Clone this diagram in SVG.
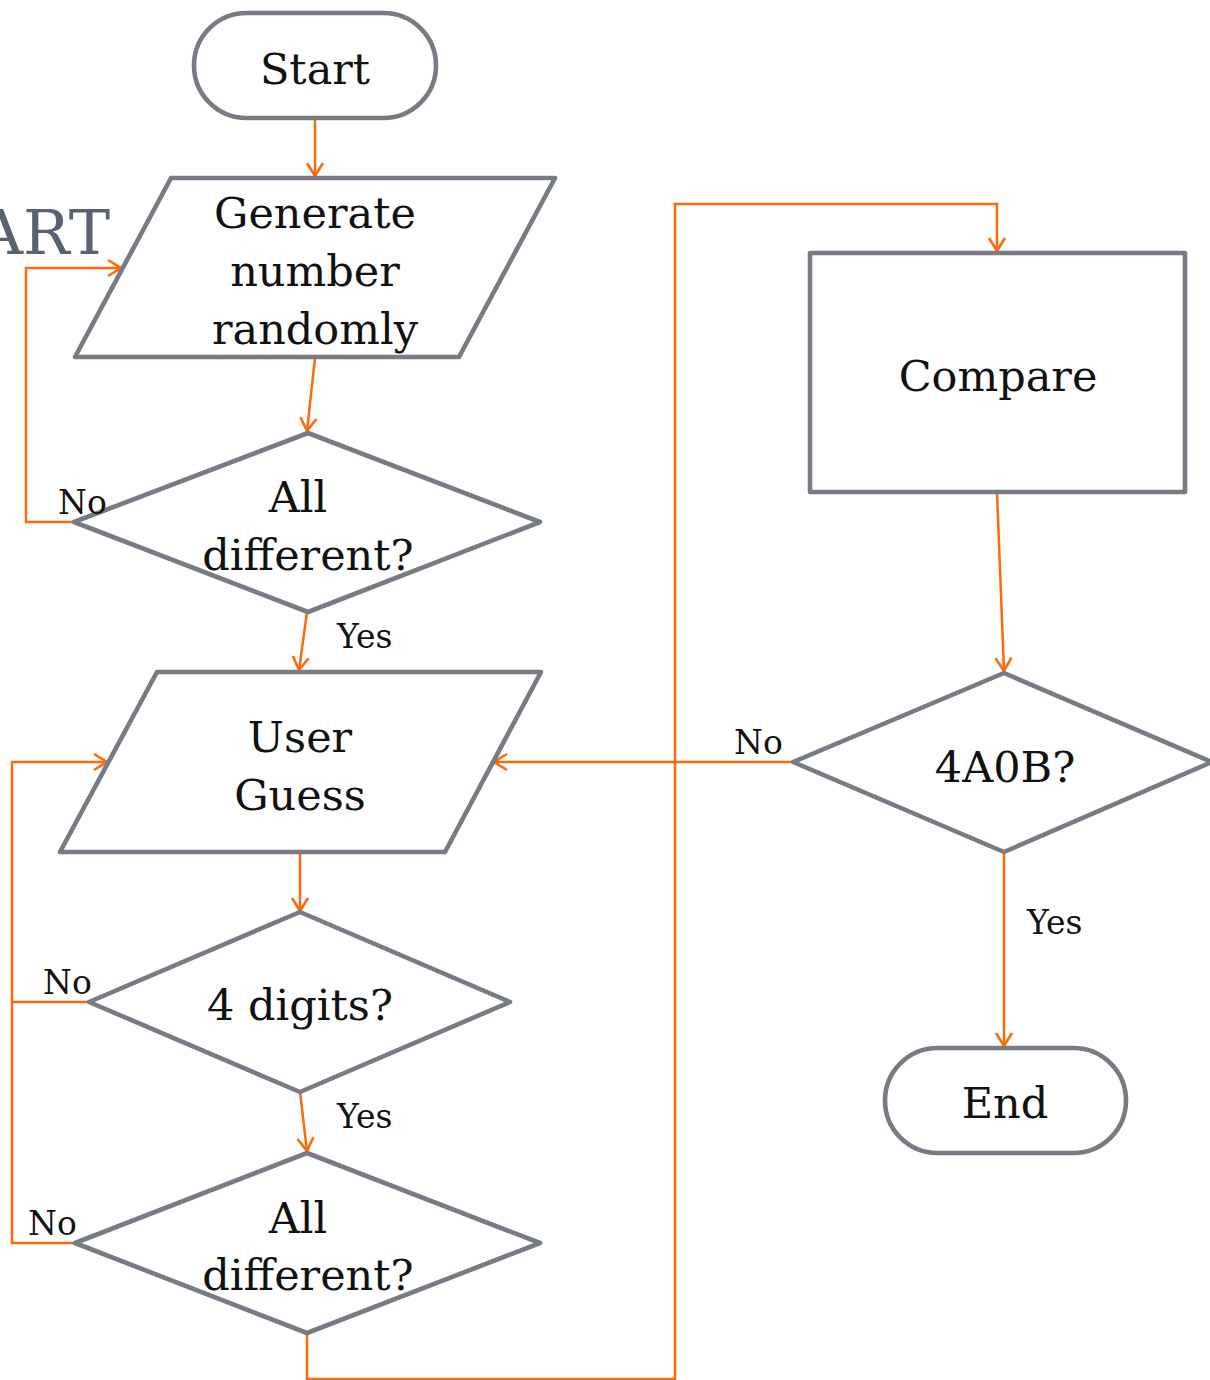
<svg xmlns="http://www.w3.org/2000/svg" width="1210" height="1380" viewBox="0 0 1210 1380">
  <style>
    .node { fill: #ffffff; stroke: #777b83; stroke-width: 4.6; stroke-linejoin: round; }
    .lbl { font-family: "DejaVu Serif", "Liberation Serif", serif; font-size: 43px; fill: #111111; text-anchor: middle; }
    .sm { font-family: "DejaVu Serif", "Liberation Serif", serif; font-size: 33px; fill: #111111; }
    .conn { fill: none; stroke: #ff6a0a; stroke-width: 2.5; }
    .title { font-family: "DejaVu Serif", "Liberation Serif", serif; font-size: 62px; fill: #5a6170; text-anchor: end; }
  </style>
  <defs>
    <marker id="arr" viewBox="0 0 16 20" refX="15" refY="10" markerWidth="16" markerHeight="20" markerUnits="userSpaceOnUse" orient="auto">
      <path d="M2,2 L15,10 L2,18" fill="none" stroke="#ff6a0a" stroke-width="2.6"/>
    </marker>
  </defs>
  <rect width="1210" height="1380" fill="#ffffff"/>

  <text class="title" x="110" y="254">ART</text>

  <g id="connectors">
    <path class="conn" d="M315,118 L315,176" marker-end="url(#arr)"/>
    <path class="conn" d="M315,358 L307,431" marker-end="url(#arr)"/>
    <path class="conn" d="M74,522 L26,522 L26,268 L121,268" marker-end="url(#arr)"/>
    <path class="conn" d="M307,612 L299,670" marker-end="url(#arr)"/>
    <path class="conn" d="M300,852 L300,911" marker-end="url(#arr)"/>
    <path class="conn" d="M89,1002 L12,1002"/>
    <path class="conn" d="M75,1243 L12,1243 L12,762 L107,762" marker-end="url(#arr)"/>
    <path class="conn" d="M300,1092 L307,1151" marker-end="url(#arr)"/>
    <path class="conn" d="M307,1333 L307,1379 L675,1379 L675,204 L997,204 L997,251" marker-end="url(#arr)"/>
    <path class="conn" d="M997,492 L1004,671" marker-end="url(#arr)"/>
    <path class="conn" d="M793,762 L494,762" marker-end="url(#arr)"/>
    <path class="conn" d="M1004,852 L1004,1046" marker-end="url(#arr)"/>
  </g>

  <g id="start">
    <rect class="node" x="194" y="13" width="242" height="105" rx="52.5"/>
    <text class="lbl" x="315" y="84">Start</text>
  </g>

  <g id="generate">
    <polygon class="node" points="171,178 555,178 459,357 75,357"/>
    <text class="lbl" x="315" y="228">Generate</text>
    <text class="lbl" x="315" y="286">number</text>
    <text class="lbl" x="315" y="344">randomly</text>
  </g>

  <g id="check1">
    <polygon class="node" points="308,433 540,522 308,612 74,522"/>
    <text class="lbl" x="298" y="512">All</text>
    <text class="lbl" x="308" y="570">different?</text>
    <text class="sm" x="58" y="514">No</text>
    <text class="sm" x="337" y="648">Yes</text>
  </g>

  <g id="userguess">
    <polygon class="node" points="157,672 541,672 445,852 60,852"/>
    <text class="lbl" x="300" y="752">User</text>
    <text class="lbl" x="300" y="810">Guess</text>
  </g>

  <g id="digits">
    <polygon class="node" points="300,912 510,1002 300,1092 89,1002"/>
    <text class="lbl" x="300" y="1020">4 digits?</text>
    <text class="sm" x="43" y="994">No</text>
    <text class="sm" x="337" y="1128">Yes</text>
  </g>

  <g id="check2">
    <polygon class="node" points="307,1153 540,1243 307,1333 75,1243"/>
    <text class="lbl" x="298" y="1233">All</text>
    <text class="lbl" x="308" y="1290">different?</text>
    <text class="sm" x="28" y="1235">No</text>
  </g>

  <g id="compare">
    <rect class="node" x="810" y="253" width="375" height="239"/>
    <text class="lbl" x="998" y="391">Compare</text>
  </g>

  <g id="result">
    <polygon class="node" points="1004,673 1212,762 1004,852 793,762"/>
    <text class="lbl" x="1005" y="782">4A0B?</text>
    <text class="sm" x="734" y="754">No</text>
    <text class="sm" x="1027" y="934">Yes</text>
  </g>

  <g id="end">
    <rect class="node" x="885" y="1048" width="241" height="105" rx="52.5"/>
    <text class="lbl" x="1005" y="1118">End</text>
  </g>
</svg>
